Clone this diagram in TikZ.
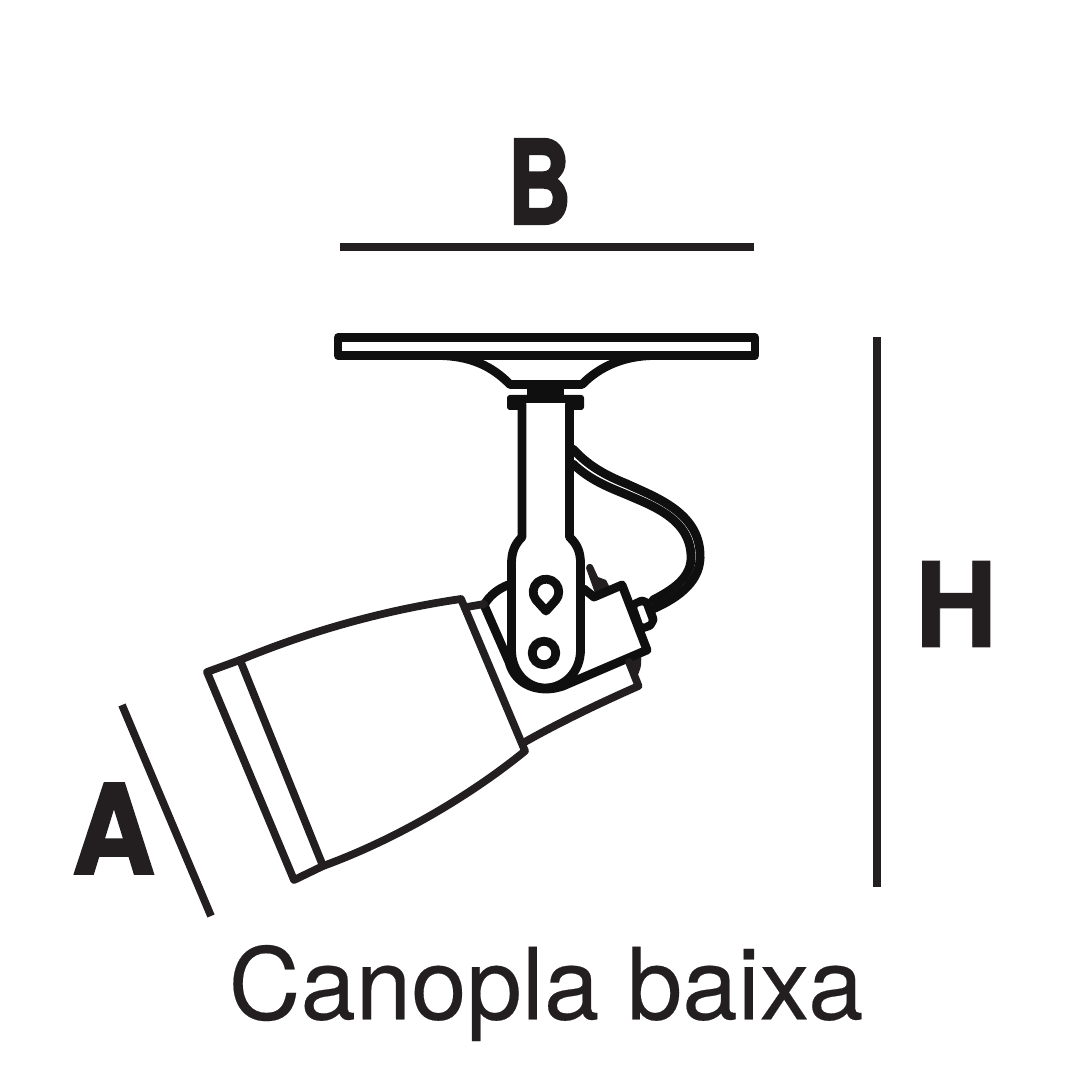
\documentclass[tikz,border=0pt]{standalone}
\usepackage{fontspec}
\setmainfont[FakeBold=0.2]{TeX Gyre Heros}
\newfontfamily\heavyH[FakeBold=0.7]{TeX Gyre Heros Bold}
\newfontfamily\heavyB[FakeBold=2.4]{TeX Gyre Heros Bold}
\newfontfamily\heavyA[FakeBold=2.4]{TeX Gyre Heros Bold}
\definecolor{lampblack}{HTML}{0F0F0F}
\definecolor{lampdark}{HTML}{231F20}
\tikzset{
    part/.style={line width=2.5pt, color=lampblack, line join=round, line cap=round},
    shade/.style={line width=2.2pt, color=lampdark, line join=round, line cap=round},
    dimline/.style={line width=2.2pt, color=lampdark},
    bigletter/.style={inner sep=0pt, text=lampdark},
}
\begin{document}
\begin{tikzpicture}[x=0.01cm, y=-0.01cm]
    \useasboundingbox (0,0) rectangle (1071,1071);
    % dimensions
    \coordinate (bleft) at (340,247);
    \coordinate (bright) at (754,247);
    \coordinate (htop) at (877,337);
    \coordinate (hbottom) at (877,887);
    \coordinate (atop) at (122,705);
    \coordinate (abottom) at (211,916);
    \draw[dimline] (bleft) -- (bright);
    \draw[dimline] (htop) -- (hbottom);
    \draw[dimline] (atop) -- (abottom);
    \node[bigletter, xscale=0.76, font=\fontsize{33}{33}\heavyB] (lblB) at (539.5,181.5) {B};
    \node[bigletter, xscale=0.97, font=\fontsize{33.5}{33.5}\heavyH] (lblH) at (956,604) {H};
    \node[bigletter, xscale=1.0, yscale=1.08, font=\fontsize{32.5}{32.5}\heavyA] (lblA) at (113.5,828.5) {A};
    \node[inner sep=0pt, text=lampdark, font=\fontsize{28.3}{28.3}\selectfont] (title) at (546,993) {Canopla baixa};
    % canopy
    \draw[part] (338,337.5) rectangle (755,355.5);
    \draw[part] (437,355.5) .. controls (470,355.5) and (492,366) .. (510,384.5) -- (582,384.5)
        .. controls (600,366) and (625,355.5) .. (655,355.5);
    \fill[lampblack] (527,381) rectangle (564,403);
    \fill[lampblack, rounded corners=0.8pt] (507,395) rectangle (584,410);
    \fill[white] (526,403) rectangle (566,412);
    % arm
    \draw[part] (522,404) -- (522,537) .. controls (514,545) and (511.5,553) .. (511.5,564)
        -- (511.5,650) .. controls (511.5,672) and (527,688) .. (545,688)
        .. controls (564,688) and (580.5,672) .. (580.5,650) -- (580.5,564)
        .. controls (580.5,553) and (578,545) .. (569.5,537) -- (569.5,404);
    \draw[part] (546,611) -- (536,600) arc[start angle=141, end angle=399, radius=12.8] -- cycle;
    \draw[part] (544,653) circle (11.8);
    % cable
    \draw[part] (573,449) .. controls (590,468) and (610,477) .. (627,484)
        .. controls (655,497) and (698,512) .. (700,553)
        .. controls (702,580) and (680,597) .. (653,609);
    \draw[part] (573,464) .. controls (590,480) and (608,487) .. (625,494)
        .. controls (650,505) and (690,518) .. (691,556)
        .. controls (692,578) and (672,590) .. (653,600);
    % socket
    \fill[lampdark] (586,568) .. controls (586,563) and (592,563) .. (593,566) -- (598,577)
        -- (606,580) -- (612,592) -- (596,596) -- cycle;
    \fill[lampdark] (627,662) -- (641,656) .. controls (642,665) and (640,672) .. (636,678) -- cycle;
    \draw[part] (584,589) -- (594,597) -- (622,585) -- (647,650) -- (563,686);
    \fill[lampblack, rounded corners=0.8pt] (631,601) -- (642,596) -- (651,600) -- (658,620)
        -- (653,629) -- (641,633) -- cycle;
    \fill[white, rounded corners=0.3pt] (637,607) -- (643,605) -- (649,621) -- (643,624) -- cycle;
    % collar
    \draw[part] (508,585) .. controls (498,589) and (490,595) .. (484,605) -- (509,662)
        .. controls (514,681) and (530,689) .. (546,689)
        .. controls (552,689) and (557,688) .. (563,686);
    \draw[shade] (484,604) -- (467,607);
    \draw[shade] (629,662) -- (638.5,686) .. controls (600,703) and (560,722) .. (523,743);
    % lamp shade
    \draw[shade] (461,599) -- (525,751)
        .. controls (475,792) and (400,838) .. (323,866) -- (294,880) -- (207,672) -- (240,660)
        .. controls (310,631) and (385,610) .. (461,599);
    \draw[shade] (240,660) -- (323,866);
\end{tikzpicture}
\end{document}
